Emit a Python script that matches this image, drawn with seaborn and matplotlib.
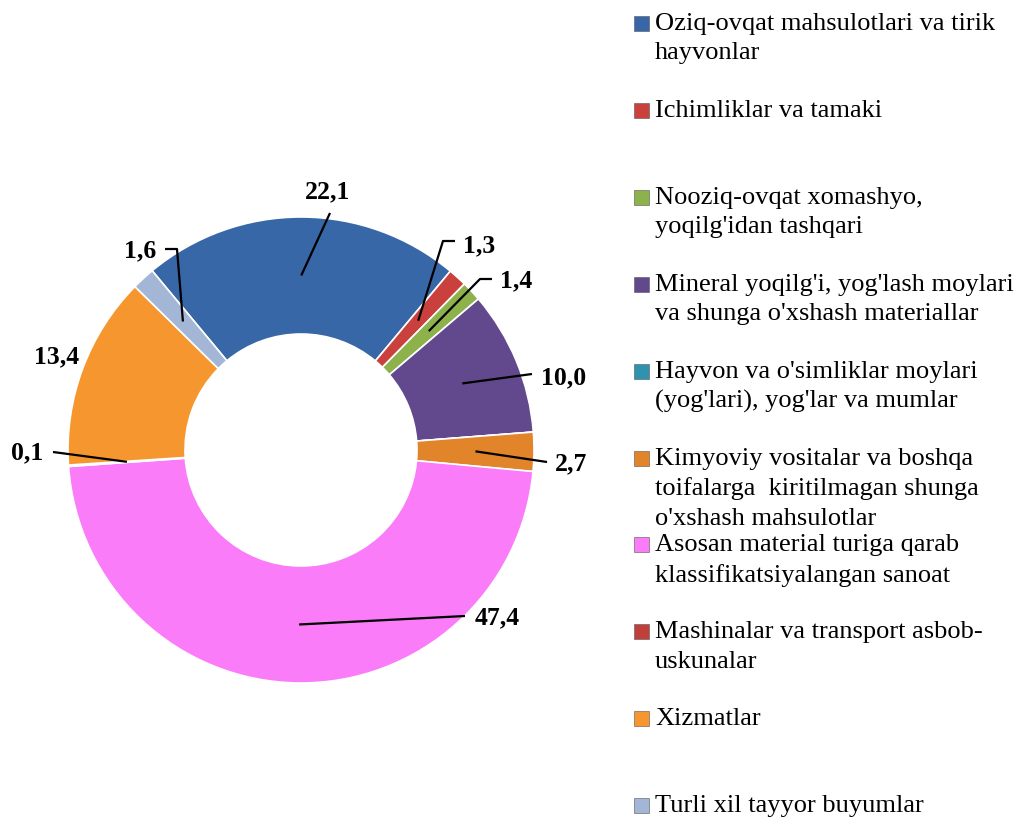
import numpy as np
import matplotlib
matplotlib.use("Agg")
import matplotlib.pyplot as plt
from matplotlib.patches import Rectangle
import seaborn as sns

# data (shares in %)
categories = [
    "Oziq-ovqat mahsulotlari va tirik\nhayvonlar",
    "Ichimliklar va tamaki",
    "Nooziq-ovqat xomashyo,\nyoqilg'idan tashqari",
    "Mineral yoqilg'i, yog'lash moylari\nva shunga o'xshash materiallar",
    "Hayvon va o'simliklar moylari\n(yog'lari), yog'lar va mumlar",
    "Kimyoviy vositalar va boshqa\ntoifalarga  kiritilmagan shunga\no'xshash mahsulotlar",
    "Asosan material turiga qarab\nklassifikatsiyalangan sanoat",
    "Mashinalar va transport asbob-\nuskunalar",
    "Xizmatlar",
    "Turli xil tayyor buyumlar",
]
shares = [22.1, 1.3, 1.4, 10.0, 0.0, 2.7, 47.4, 0.1, 13.4, 1.6]
colors = ["#3767A7", "#C9403C", "#8DB24B", "#62488D", "#2F93B0",
          "#E2842A", "#FA7CF8", "#C0403C", "#F6962F", "#A3B6D6"]

# label placement (pixels from top-left): text centre, then leader points
label_text_pos = [(328, 192), (479, 246), (516, 281), (564, 378), None,
                  (571, 464), (497, 618), (27, 453), (57, 357), (140, 251)]
label_paths = [[(330, 213)], [(443, 241), (455, 241)], [(480, 279), (492, 279)],
               [(532, 374)], None, [(547, 462)], [(465, 616)], [(53, 452)],
               [], [(177, 249), (165, 249)]]

W, H = 1017, 818
sns.set_theme(style="white")
plt.rcParams['font.family'] = ['Liberation Serif', 'DejaVu Serif']

fig = plt.figure(figsize=(W / 100, H / 100), dpi=100)
fig.patch.set_facecolor("white")
ax = fig.add_axes([0, 0, 1, 1])

cx, cy, R = 301, 450, 233
ring = 117
wedges, _ = ax.pie(shares, colors=colors, startangle=129.7, counterclock=False,
                   radius=R, center=(cx, H - cy),
                   wedgeprops=dict(width=ring, edgecolor="white", linewidth=1.2))
ax.set_xlim(0, W)
ax.set_ylim(0, H)
ax.set_aspect("equal")
ax.axis("off")

r_mid = R - ring / 2
for w, val, tpos, path in zip(wedges, shares, label_text_pos, label_paths):
    if tpos is None:
        continue
    ang = np.deg2rad((w.theta1 + w.theta2) / 2)
    ax_x = cx + r_mid * np.cos(ang)
    ax_y = (H - cy) + r_mid * np.sin(ang)
    if path:
        xs = [ax_x] + [p[0] for p in path]
        ys = [ax_y] + [H - p[1] for p in path]
        ax.plot(xs, ys, color="black", lw=1.6, solid_capstyle="butt")
    ax.text(tpos[0], H - tpos[1], f"{val:.1f}".replace(".", ","),
            ha="center", va="center", fontsize=18.5, fontweight="bold", color="black")

# legend on the right, fixed pitch like the original (baseline of first line)
base0, pitch = 31, 86.9
for i, (lab, col) in enumerate(zip(categories, colors)):
    yb = base0 + i * pitch
    ax.add_patch(Rectangle((634, H - yb), 15, 15, facecolor=col,
                           edgecolor="#555555", linewidth=0.4))
    ax.text(655, H - (yb - 18), lab, ha="left", va="top", fontsize=19,
            linespacing=1.44, color="black")

fig.savefig("out.png", dpi=100, facecolor="white")
